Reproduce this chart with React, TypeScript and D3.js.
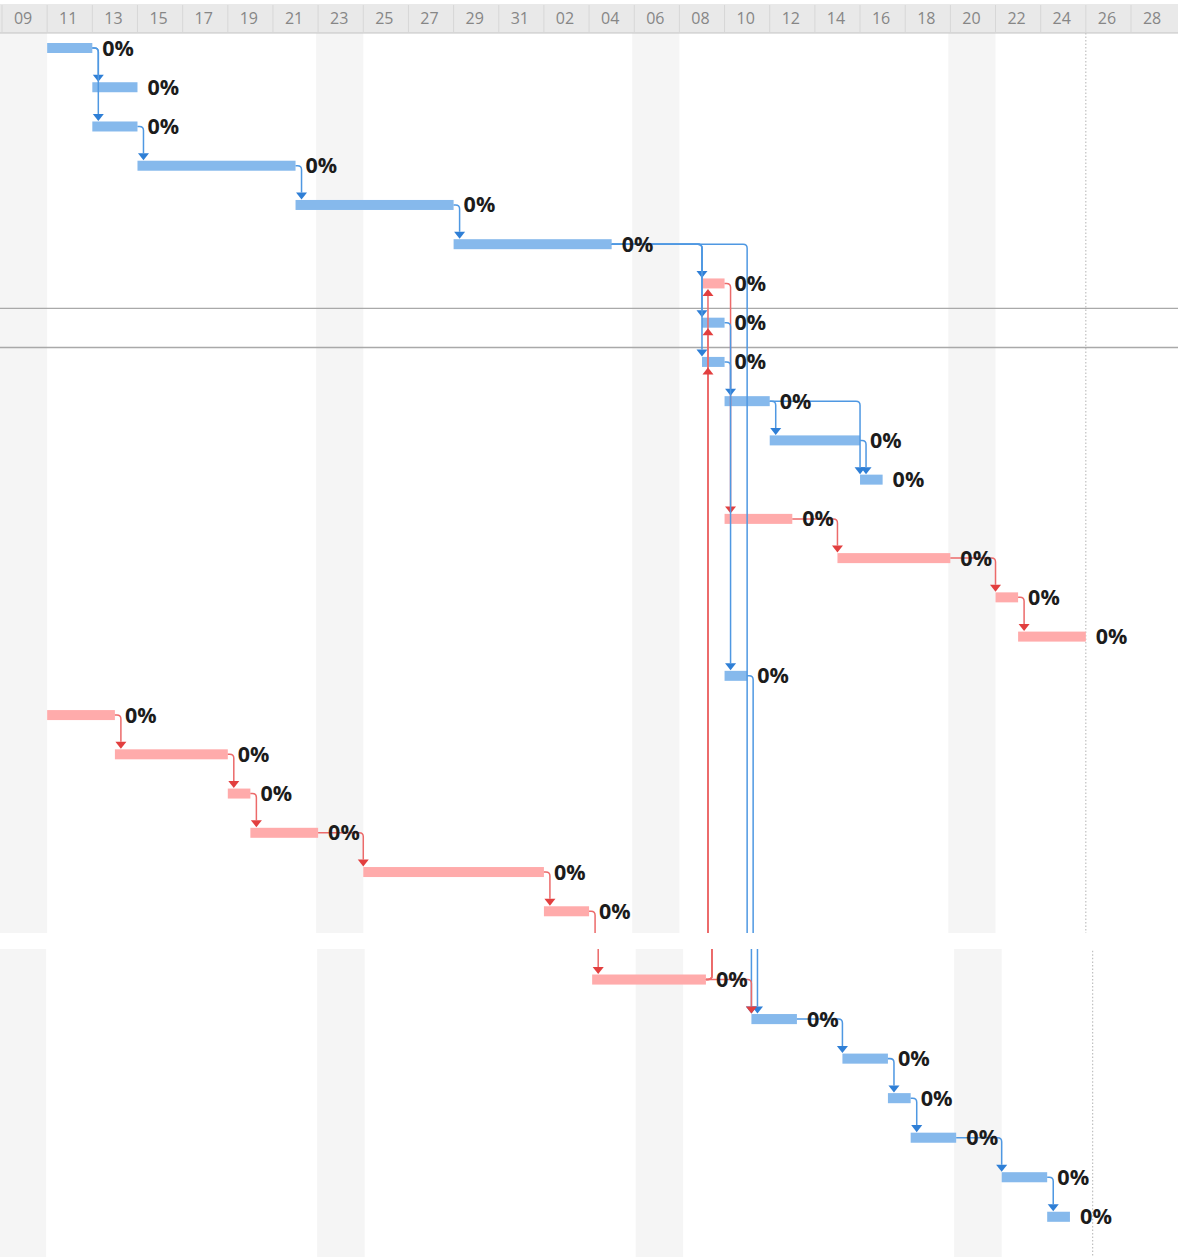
import React from "react";
import * as d3 from "d3";

const W = 1178;
const H = 1257;

// Timeline range and header ticks (one label per two-day column)
const axisStart = "2024-12-09";
const axisEnd = "2025-01-30";
const headerTicks = [
  "2024-12-09", "2024-12-11", "2024-12-13", "2024-12-15", "2024-12-17", "2024-12-19",
  "2024-12-21", "2024-12-23", "2024-12-25", "2024-12-27", "2024-12-29", "2024-12-31",
  "2025-01-02", "2025-01-04", "2025-01-06", "2025-01-08", "2025-01-10", "2025-01-12",
  "2025-01-14", "2025-01-16", "2025-01-18", "2025-01-20", "2025-01-22", "2025-01-24",
  "2025-01-26", "2025-01-28",
];
const shadedPeriods = ["2024-12-09", "2024-12-23", "2025-01-06", "2025-01-20"];
const todayMarker = "2025-01-26";
const highlightedRow = 7;

// Tasks, one per row
const taskStarts = [
  "2024-12-11", "2024-12-13", "2024-12-13", "2024-12-15", "2024-12-22", "2024-12-29",
  "2025-01-09", "2025-01-09", "2025-01-09", "2025-01-10", "2025-01-12", "2025-01-16",
  "2025-01-10", "2025-01-15", "2025-01-22", "2025-01-23", "2025-01-10",
  "2024-12-11", "2024-12-14", "2024-12-19", "2024-12-20", "2024-12-25", "2025-01-02",
  "2025-01-04", "2025-01-11", "2025-01-15", "2025-01-17", "2025-01-18", "2025-01-22",
  "2025-01-24",
];
const taskEnds = [
  "2024-12-13", "2024-12-15", "2024-12-15", "2024-12-22", "2024-12-29", "2025-01-05",
  "2025-01-10", "2025-01-10", "2025-01-10", "2025-01-12", "2025-01-16", "2025-01-17",
  "2025-01-13", "2025-01-20", "2025-01-23", "2025-01-26", "2025-01-11",
  "2024-12-14", "2024-12-19", "2024-12-20", "2024-12-23", "2025-01-02", "2025-01-04",
  "2025-01-09", "2025-01-13", "2025-01-17", "2025-01-18", "2025-01-20", "2025-01-24",
  "2025-01-25",
];
// true = critical-path task (red), false = regular task (blue)
const taskCritical = [
  false, false, false, false, false, false,
  true, false, false, false, false, false,
  true, true, true, true, false,
  true, true, true, true, true, true,
  true, false, false, false, false, false,
  false,
];
const taskProgress = [
  0, 0, 0, 0, 0, 0, 0, 0, 0, 0, 0, 0, 0, 0, 0,
  0, 0, 0, 0, 0, 0, 0, 0, 0, 0, 0, 0, 0, 0, 0,
];

// Finish-to-start dependencies
const linkFrom = [0, 0, 2, 3, 4, 5, 5, 5, 5, 6, 7, 8, 9, 9, 10, 12, 13, 14, 16, 17, 18, 19, 20, 21, 22, 23, 23, 23, 23, 24, 25, 26, 27, 28];
const linkTo = [1, 2, 3, 4, 5, 6, 7, 8, 24, 12, 9, 16, 10, 11, 11, 13, 14, 15, 24, 18, 19, 20, 21, 22, 23, 24, 6, 7, 8, 25, 26, 27, 28, 29];

const parse = d3.utcParse("%Y-%m-%d");
const fmtDay = d3.utcFormat("%d");

const dayW = 22.58;
const x = d3
  .scaleUtc()
  .domain([parse(axisStart)!, parse(axisEnd)!])
  .range([2, 2 + 52 * dayW]);

const rowH = 39.24;
const rows = d3.range(taskStarts.length);
const y = d3
  .scaleBand<number>()
  .domain(rows)
  .range([33.6, 33.6 + rows.length * rowH])
  .paddingInner(0);
const yc = (i: number) => (y(i) as number) + 14.4;

const barH = 10;
const COLORS = {
  bar: "#86b9ec",
  barCrit: "#ffabab",
  link: "#4f98e2",
  linkCrit: "#ec6a6a",
  arrow: "#2f7fd6",
  arrowCrit: "#e23f3f",
};

function linkGeometry(a: number, b: number) {
  const x1 = x(parse(taskEnds[a])!);
  const y1 = yc(a);
  const sx = x(parse(taskStarts[b])!);
  const ax = Math.max(sx, x1 + 6);
  const down = b > a;
  const dir = down ? 1 : -1;
  const tipY = down ? yc(b) - barH / 2 - 0.5 : yc(b) + barH / 2 + 0.5;
  const baseY = tipY - dir * 7;
  const r = 4;
  const path = `M${x1},${y1}H${ax - r}Q${ax},${y1} ${ax},${y1 + dir * r}V${baseY}`;
  const arrow = `M${ax - 5.5},${baseY}L${ax + 5.5},${baseY}L${ax},${tipY}Z`;
  return { path, arrow };
}

function GanttBody() {
  const bottom = 1400;
  return (
    <g>
      {shadedPeriods.map((d) => {
        const s = parse(d)!;
        const e = d3.utcDay.offset(s, 2);
        const x0 = Math.max(0, x(s) - 2);
        return (
          <rect key={d} x={x0} y={33} width={x(e) - x0} height={bottom} fill="#f5f5f5" />
        );
      })}
      <line
        x1={x(parse(todayMarker)!)}
        x2={x(parse(todayMarker)!)}
        y1={33}
        y2={bottom}
        stroke="#b4b4b4"
        strokeWidth={1}
        strokeDasharray="1.5 2"
      />
      {[highlightedRow, highlightedRow + 1].map((r) => (
        <line key={r} x1={0} x2={W} y1={y(r)} y2={y(r)} stroke="#a9a9a9" strokeWidth={1.3} />
      ))}
      {rows.map((i) => {
        const s = x(parse(taskStarts[i])!);
        const e = x(parse(taskEnds[i])!);
        return (
          <rect
            key={i}
            x={s}
            y={yc(i) - barH / 2}
            width={e - s}
            height={barH}
            fill={taskCritical[i] ? COLORS.barCrit : COLORS.bar}
          />
        );
      })}
      {linkFrom.map((a, k) => {
        const b = linkTo[k];
        const { path, arrow } = linkGeometry(a, b);
        const crit = taskCritical[a];
        return (
          <g key={k}>
            <path d={path} fill="none" stroke={crit ? COLORS.linkCrit : COLORS.link} strokeWidth={1.5} />
            <path d={arrow} fill={crit ? COLORS.arrowCrit : COLORS.arrow} />
          </g>
        );
      })}
      {rows.map((i) => (
        <text
          key={i}
          x={x(parse(taskEnds[i])!) + 10}
          y={yc(i) + 7.5}
          fontFamily="'Open Sans', sans-serif"
          fontWeight={700}
          fontSize={21.5}
          fill="#1c1c1c"
        >
          {`${taskProgress[i]}%`}
        </text>
      ))}
    </g>
  );
}

function Header() {
  return (
    <g>
      <rect x={0} y={4} width={W} height={29} fill="#e9e9e9" />
      <line x1={0} x2={W} y1={33} y2={33} stroke="#c4c4c4" strokeWidth={1.2} />
      {headerTicks.map((t) => {
        const d = parse(t)!;
        const x0 = x(d);
        return (
          <g key={t}>
            <line x1={x0} x2={x0} y1={5} y2={32} stroke="#d7d7d7" strokeWidth={1} />
            <text
              x={x0 + dayW - 1.5}
              y={23.5}
              textAnchor="middle"
              fontFamily="'Open Sans', sans-serif"
              fontSize={16}
              fill="#868686"
            >
              {fmtDay(d)}
            </text>
          </g>
        );
      })}
    </g>
  );
}

export default function App() {
  return (
    <svg
      width={W}
      height={H}
      viewBox={`0 0 ${W} ${H}`}
      style={{ position: "absolute", left: 0, top: 0, background: "#fff" }}
    >
      <defs>
        <clipPath id="clipTop" clipPathUnits="userSpaceOnUse">
          <rect x={0} y={0} width={W} height={933} />
        </clipPath>
        <clipPath id="clipBottom" clipPathUnits="userSpaceOnUse">
          <rect x={0} y={949} width={W} height={H - 949} />
        </clipPath>
      </defs>
      <rect x={0} y={0} width={W} height={H} fill="#ffffff" />
      <g clipPath="url(#clipTop)">
        <GanttBody />
        <Header />
      </g>
      <g clipPath="url(#clipBottom)">
        <g transform="translate(-1.4,21.8) scale(1.0076)">
          <GanttBody />
        </g>
      </g>
    </svg>
  );
}
